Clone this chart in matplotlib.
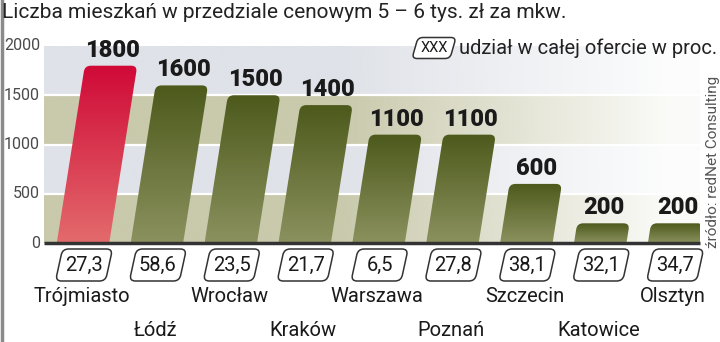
import numpy as np
import matplotlib.pyplot as plt
import matplotlib.transforms as mtransforms
from matplotlib.colors import LinearSegmentedColormap, to_rgb
from matplotlib.patches import PathPatch
from matplotlib.path import Path

cities = ['Trójmiasto', 'Łódź', 'Wrocław', 'Kraków', 'Warszawa',
          'Poznań', 'Szczecin', 'Katowice', 'Olsztyn']
counts = [1800, 1600, 1500, 1400, 1100, 1100, 600, 200, 200]
shares = ['27,3', '58,6', '23,5', '21,7', '6,5', '27,8', '38,1', '32,1', '34,7']
yticks = [0, 500, 1000, 1500, 2000]

FONT = 'Roboto'
W, H = 720, 342
X0, X1 = -0.528, 8.35
AX_L, AX_R, AX_B, AX_T = 44, 700, 243, 46

fig = plt.figure(figsize=(W / 100, H / 100), dpi=100)
fig.patch.set_facecolor('white')
ax = fig.add_axes([AX_L / W, (H - AX_B) / H, (AX_R - AX_L) / W, (AX_B - AX_T) / H])
ax.set_xlim(X0, X1)
ax.set_ylim(0, 2000)
ax.axis('off')

sx = (AX_R - AX_L) / (X1 - X0)   # px per category
sy = (AX_B - AX_T) / 2000        # px per unit


def fy(px):
    return (H - px) / H


def rounded(pts, radii):
    # polygon with rounded corners, pts in pixel units
    verts, codes = [], []
    n = len(pts)
    for k in range(n):
        p = np.array(pts[k], float)
        prev = np.array(pts[k - 1], float)
        nxt = np.array(pts[(k + 1) % n], float)
        r = radii[k]
        first = Path.MOVETO if k == 0 else Path.LINETO
        if r == 0:
            verts.append(p)
            codes.append(first)
        else:
            a = p + (prev - p) / np.linalg.norm(prev - p) * r
            b = p + (nxt - p) / np.linalg.norm(nxt - p) * r
            verts += [a, p, b]
            codes += [first, Path.CURVE3, Path.CURVE3]
    verts.append(verts[0])
    codes.append(Path.CLOSEPOLY)
    return np.array(verts), codes


blend = mtransforms.blended_transform_factory(ax.transData, fig.transFigure)
pix = mtransforms.Affine2D().scale(1 / W, 1 / H) + fig.transFigure

# background bands fading to white on the right
fade = np.clip(1 - (np.linspace(0, 1, 300) - 0.45) / 0.55, 0.08, 1)
band_cols = ['#c9c9ac', '#dfe2e8', '#c9c9ac', '#dfe2e8']
for k, col in enumerate(band_cols):
    img = np.ones((1, 300, 4))
    img[..., :3] = to_rgb(col)
    img[..., 3] = fade
    ax.imshow(img, extent=(X0, X1, k * 500, (k + 1) * 500),
              aspect='auto', zorder=0, interpolation='bilinear')
for v in [500, 1000, 1500]:
    ax.axhline(v, color='white', lw=1.6, zorder=1)

# slanted gradient bars
green = LinearSegmentedColormap.from_list('g', ['#8b915e', '#4d5a1c'])
red = LinearSegmentedColormap.from_list('r', ['#e36a6c', '#d00a37'])
half = 0.355
slant = 0.379 / 1800
grad = np.linspace(0, 1, 100).reshape(-1, 1)
for i, v in enumerate(counts):
    s = slant * v
    pts = [(i - half, 0), (i + half, 0), (i + half + s, v), (i - half + s, v)]
    pts_px = [(x * sx, y * sy) for x, y in pts]
    verts, codes = rounded(pts_px, [0, 0, 6, 6])
    verts = verts / [sx, sy]
    poly = PathPatch(Path(verts, codes), facecolor='none', edgecolor='none')
    ax.add_patch(poly)
    cmap = red if i == 0 else green
    im = ax.imshow(grad, extent=(i - half, i + half + s, 0, v), origin='lower',
                   cmap=cmap, aspect='auto', zorder=2)
    im.set_clip_path(poly)
    ax.text(i + s * 1.05, v + 40, f'{v}', ha='center', va='bottom',
            fontsize=17, fontweight='black', family=FONT, color='#1a1a1a',
            zorder=4, clip_on=False)

# baseline
ax.plot([X0, X1], [0, 0], color='#333333', lw=2.5, zorder=3,
        solid_capstyle='butt', clip_on=False)

# y tick labels
for v in yticks:
    fig.text(40 / W, (H - AX_B + v * sy) / H, f'{v}', ha='right',
             va='center', fontsize=11.5, family=FONT, color='#4a4a4a')


def slanted_box(cx, cy, w, h, sl=3.5, r=6):
    # cx, cy in pixels from the top-left corner
    y0 = H - cy - h / 2
    y1 = H - cy + h / 2
    pts = [(cx - w / 2 - sl, y0), (cx + w / 2 - sl, y0),
           (cx + w / 2 + sl, y1), (cx - w / 2 + sl, y1)]
    verts, codes = rounded(pts, [r, r, r, r])
    fig.add_artist(PathPatch(Path(verts, codes), transform=pix, fc='white',
                             ec='#333333', lw=1.1))


# share boxes and city names
for i, (c, sh) in enumerate(zip(cities, shares)):
    cx = AX_L + (i - X0) * sx
    slanted_box(cx + 1, 265, 50, 32)
    fig.text((cx + 1) / W, fy(265), sh, ha='center', va='center',
             fontsize=14.5, family=FONT, color='#1a1a1a', zorder=5)
    ax.text(i - 0.02, fy(297 if i % 2 == 0 else 330), c, transform=blend,
            ha='center', va='center', fontsize=14.5, family=FONT,
            color='#1a1a1a')

# title
fig.text(2 / W, fy(13), 'Liczba mieszkań w przedziale cenowym 5 – 6 tys. zł za mkw.',
         ha='left', va='center', fontsize=15, family=FONT, color='#222222')

# legend
slanted_box(434, 48, 38, 21, sl=3, r=5)
fig.text(434 / W, fy(48), 'XXX', ha='center', va='center', fontsize=10.5,
         family=FONT, color='#1a1a1a', zorder=5)
fig.text(459 / W, fy(48), 'udział w całej ofercie w proc.', ha='left',
         va='center', fontsize=14.5, family=FONT, color='#222222')

# source
fig.text(713 / W, fy(162), 'źródło: redNet Consulting', rotation=90,
         ha='center', va='center', fontsize=11, family=FONT, color='#555555')

# left border
fig.add_artist(plt.Line2D([1.5 / W, 1.5 / W], [0, 1], color='#8a8a8a', lw=2.5,
                          transform=fig.transFigure))

fig.savefig('out.png', dpi=100)
